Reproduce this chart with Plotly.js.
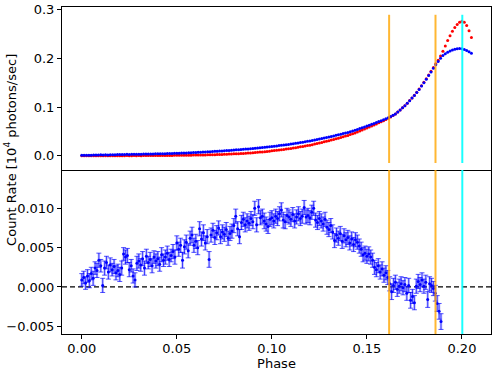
<!DOCTYPE html>
<html>
<head>
<meta charset="utf-8">
<script src="https://cdn.plot.ly/plotly-3.0.1.min.js"></script>
<style>html,body{margin:0;padding:0;background:#fff;}#chart{width:501px;height:376px;}</style>
</head>
<body>
<div id="chart"></div>
<script>
// ---- Top panel: phase bins (regular grid, step 0.00125 from 0 to 0.205) ----
const topPhaseStart = 0.0;
const topPhaseStep = 0.00125;
const blueRate = [
 0.0008,0.0010,0.0009,0.0012,0.0011,0.0013,0.0014,0.0016,
 0.0018,0.0017,0.0019,0.0016,0.0020,0.0021,0.0019,0.0023,
 0.0025,0.0024,0.0026,0.0028,0.0027,0.0029,0.0030,0.0029,
 0.0032,0.0031,0.0033,0.0035,0.0034,0.0036,0.0037,0.0038,
 0.0040,0.0041,0.0043,0.0042,0.0045,0.0046,0.0047,0.0049,
 0.0050,0.0052,0.0054,0.0055,0.0057,0.0060,0.0062,0.0064,
 0.0068,0.0070,0.0072,0.0074,0.0077,0.0080,0.0083,0.0086,
 0.0090,0.0092,0.0095,0.0099,0.0102,0.0105,0.0109,0.0113,
 0.0118,0.0121,0.0124,0.0128,0.0131,0.0136,0.0140,0.0144,
 0.0148,0.0153,0.0158,0.0163,0.0168,0.0173,0.0179,0.0184,
 0.0190,0.0196,0.0202,0.0208,0.0214,0.0221,0.0227,0.0233,
 0.0240,0.0247,0.0255,0.0263,0.0271,0.0279,0.0288,0.0296,
 0.0305,0.0314,0.0324,0.0334,0.0344,0.0354,0.0364,0.0374,
 0.0385,0.0396,0.0408,0.0420,0.0432,0.0444,0.0456,0.0468,
 0.0480,0.0495,0.0510,0.0526,0.0542,0.0558,0.0575,0.0592,
 0.0610,0.0628,0.0646,0.0664,0.0683,0.0702,0.0721,0.0740,
 0.0760,0.0782,0.0805,0.0832,0.0860,0.0900,0.0942,0.0985,
 0.1030,0.1080,0.1132,0.1186,0.1240,0.1300,0.1365,0.1432,
 0.1500,0.1575,0.1650,0.1725,0.1800,0.1870,0.1940,0.2005,
 0.2060,0.2100,0.2130,0.2155,0.2175,0.2190,0.2200,0.2205,
 0.2200,0.2185,0.2165,0.2140,0.2110
];
const redRate = [
 0.0000,0.0001,-0.0001,0.0000,0.0001,0.0000,-0.0001,0.0000,
 -0.0002,0.0000,-0.0001,0.0001,0.0000,-0.0001,0.0001,0.0000,
 0.0000,0.0001,0.0000,0.0002,0.0001,0.0000,0.0002,0.0001,
 0.0002,0.0001,0.0003,0.0002,0.0003,0.0004,0.0003,0.0004,
 0.0005,0.0004,0.0006,0.0005,0.0006,0.0007,0.0006,0.0008,
 0.0008,0.0009,0.0009,0.0010,0.0011,0.0011,0.0012,0.0013,
 0.0013,0.0014,0.0015,0.0016,0.0017,0.0018,0.0020,0.0021,
 0.0022,0.0024,0.0026,0.0027,0.0029,0.0031,0.0033,0.0035,
 0.0038,0.0040,0.0043,0.0045,0.0048,0.0051,0.0054,0.0058,
 0.0062,0.0066,0.0070,0.0074,0.0078,0.0083,0.0088,0.0094,
 0.0100,0.0106,0.0112,0.0118,0.0124,0.0130,0.0137,0.0143,
 0.0150,0.0158,0.0166,0.0175,0.0183,0.0191,0.0200,0.0209,
 0.0218,0.0228,0.0239,0.0250,0.0262,0.0274,0.0286,0.0298,
 0.0310,0.0322,0.0335,0.0348,0.0362,0.0376,0.0390,0.0404,
 0.0418,0.0435,0.0452,0.0470,0.0490,0.0509,0.0529,0.0549,
 0.0570,0.0590,0.0611,0.0632,0.0654,0.0676,0.0698,0.0721,
 0.0745,0.0770,0.0797,0.0826,0.0858,0.0898,0.0940,0.0985,
 0.1030,0.1082,0.1135,0.1190,0.1245,0.1308,0.1374,0.1442,
 0.1510,0.1585,0.1662,0.1740,0.1815,0.1890,0.1965,0.2050,
 0.2150,0.2260,0.2370,0.2470,0.2560,0.2640,0.2700,0.2745,
 0.2765,0.2745,0.2680,0.2570,0.2430
];

// ---- Bottom panel: residual (phase step 0.001 from 0 to 0.189) ----
const diffPhaseStart = 0.0;
const diffPhaseStep = 0.001;
const diffRate = [
 0.0009,0.0012,0.0005,0.0014,0.0008,0.0017,0.0011,0.0024,0.0021,0.0034,
 0.0027,0.0002,0.0024,0.0031,0.0019,0.0028,0.0022,0.0026,0.0018,0.0021,
 0.0016,0.0024,0.0042,0.0038,0.0040,0.0022,0.0027,0.0014,0.0009,0.0030,
 0.0033,0.0028,0.0036,0.0024,0.0039,0.0031,0.0035,0.0027,0.0038,0.0033,
 0.0036,0.0029,0.0041,0.0034,0.0038,0.0043,0.0035,0.0040,0.0045,0.0038,
 0.0056,0.0048,0.0053,0.0034,0.0051,0.0057,0.0046,0.0062,0.0066,0.0053,
 0.0058,0.0050,0.0074,0.0061,0.0069,0.0056,0.0064,0.0035,0.0066,0.0072,
 0.0063,0.0069,0.0075,0.0064,0.0070,0.0067,0.0073,0.0062,0.0068,0.0071,
 0.0078,0.0090,0.0074,0.0064,0.0082,0.0086,0.0079,0.0084,0.0081,0.0087,
 0.0083,0.0100,0.0079,0.0102,0.0088,0.0090,0.0084,0.0080,0.0077,0.0086,
 0.0088,0.0084,0.0090,0.0087,0.0093,0.0098,0.0085,0.0083,0.0091,0.0089,
 0.0086,0.0092,0.0084,0.0089,0.0093,0.0087,0.0090,0.0101,0.0089,0.0091,
 0.0088,0.0095,0.0100,0.0085,0.0082,0.0087,0.0084,0.0080,0.0086,0.0076,
 0.0073,0.0078,0.0070,0.0059,0.0066,0.0062,0.0068,0.0058,0.0065,0.0060,
 0.0063,0.0056,0.0061,0.0054,0.0060,0.0057,0.0052,0.0048,0.0041,0.0043,
 0.0039,0.0042,0.0038,0.0034,0.0025,0.0022,0.0027,0.0019,0.0023,0.0015,
 0.0018,0.0012,0.0004,-0.0006,0.0002,0.0006,-0.0003,0.0001,0.0004,-0.0001,
 0.0003,-0.0008,0.0002,-0.0017,-0.0012,-0.0020,0.0001,0.0007,0.0003,0.0009,
 0.0001,0.0006,-0.0016,0.0004,0.0002,-0.0002,-0.0008,-0.0021,-0.0031,-0.0044
];
const diffErr = [
 0.0008,0.0008,0.0008,0.0008,0.0009,0.0008,0.0009,0.0008,0.0009,0.0009,
 0.0008,0.0009,0.0009,0.0008,0.0009,0.0009,0.0008,0.0009,0.0009,0.0008,
 0.0009,0.0009,0.0008,0.0009,0.0009,0.0009,0.0008,0.0009,0.0009,0.0009,
 0.0009,0.0008,0.0009,0.0009,0.0009,0.0008,0.0009,0.0009,0.0008,0.0009,
 0.0009,0.0009,0.0009,0.0008,0.0009,0.0009,0.0009,0.0008,0.0009,0.0009,
 0.0009,0.0009,0.0009,0.0010,0.0009,0.0009,0.0009,0.0009,0.0010,0.0009,
 0.0009,0.0009,0.0009,0.0009,0.0010,0.0009,0.0009,0.0010,0.0009,0.0009,
 0.0009,0.0009,0.0009,0.0009,0.0009,0.0009,0.0009,0.0009,0.0009,0.0009,
 0.0009,0.0009,0.0009,0.0009,0.0009,0.0009,0.0009,0.0009,0.0009,0.0009,
 0.0009,0.0009,0.0009,0.0009,0.0009,0.0009,0.0010,0.0009,0.0009,0.0009,
 0.0009,0.0009,0.0009,0.0009,0.0009,0.0009,0.0010,0.0009,0.0009,0.0009,
 0.0009,0.0009,0.0009,0.0009,0.0009,0.0009,0.0009,0.0009,0.0009,0.0009,
 0.0009,0.0009,0.0009,0.0009,0.0009,0.0009,0.0009,0.0009,0.0009,0.0009,
 0.0009,0.0009,0.0009,0.0009,0.0009,0.0009,0.0009,0.0009,0.0009,0.0009,
 0.0009,0.0009,0.0009,0.0009,0.0009,0.0009,0.0009,0.0009,0.0009,0.0009,
 0.0009,0.0009,0.0009,0.0009,0.0009,0.0009,0.0009,0.0009,0.0009,0.0009,
 0.0009,0.0009,0.0009,0.0010,0.0009,0.0009,0.0009,0.0009,0.0009,0.0009,
 0.0009,0.0009,0.0009,0.0010,0.0009,0.0009,0.0009,0.0009,0.0009,0.0009,
 0.0009,0.0009,0.0010,0.0009,0.0009,0.0009,0.0010,0.0010,0.0010,0.0010
];

// ---- Marker lines ----
const orangePhases = [0.1617, 0.1861];
const cyanPhases = [0.2002];
const topLineSpan = [-0.015, 0.29];

// ---- Axis ticks ----
const xTicks = [0.00, 0.05, 0.10, 0.15, 0.20];
const yTopTicks = [0.0, 0.1, 0.2, 0.3];
const yBotTicks = [-0.005, 0.000, 0.005, 0.010];

const topPhase = blueRate.map((_, i) => +(topPhaseStart + i * topPhaseStep).toFixed(5));
const diffPhase = diffRate.map((_, i) => +(diffPhaseStart + i * diffPhaseStep).toFixed(5));

const FONT = 'DejaVu Sans, sans-serif';
const FS = 13;

const traces = [
  {x: topPhase, y: redRate, xaxis: 'x2', yaxis: 'y2', mode: 'markers', type: 'scatter',
   marker: {color: 'red', size: 3}, hoverinfo: 'skip'},
  {x: topPhase, y: blueRate, xaxis: 'x2', yaxis: 'y2', mode: 'markers', type: 'scatter',
   marker: {color: 'blue', size: 3}, hoverinfo: 'skip'},
  {x: diffPhase, y: diffRate, xaxis: 'x', yaxis: 'y', mode: 'markers', type: 'scatter',
   marker: {color: 'blue', size: 3, opacity: 0},
   error_y: {type: 'data', array: diffErr, visible: true, color: 'rgba(70,70,255,0.35)', thickness: 2.5, width: 0},
   hoverinfo: 'skip'},
  {x: diffPhase, y: diffRate, xaxis: 'x', yaxis: 'y', mode: 'markers', type: 'scatter',
   marker: {color: 'blue', size: 3},
   error_y: {type: 'data', array: diffErr, visible: true, color: 'rgba(0,0,255,0.85)', thickness: 0.8, width: 2.5},
   hoverinfo: 'skip'}
];

const shapes = [];
shapes.push({type: 'line', xref: 'x domain', yref: 'y', x0: 0, x1: 1, y0: 0, y1: 0,
  line: {color: 'black', width: 1.3, dash: '5px,3px'}, layer: 'below'});
orangePhases.forEach(p => {
  shapes.push({type: 'line', xref: 'x2', yref: 'y2', x0: p, x1: p, y0: topLineSpan[0], y1: topLineSpan[1],
    line: {color: 'rgba(255,165,0,0.8)', width: 2}, layer: 'above'});
  shapes.push({type: 'line', xref: 'x', yref: 'y domain', x0: p, x1: p, y0: 0, y1: 1,
    line: {color: 'rgba(255,165,0,0.8)', width: 2}, layer: 'above'});
});
cyanPhases.forEach(p => {
  shapes.push({type: 'line', xref: 'x2', yref: 'y2', x0: p, x1: p, y0: topLineSpan[0], y1: topLineSpan[1],
    line: {color: 'rgba(0,255,255,0.9)', width: 2}, layer: 'above'});
  shapes.push({type: 'line', xref: 'x', yref: 'y domain', x0: p, x1: p, y0: 0, y1: 1,
    line: {color: 'rgba(0,255,255,0.9)', width: 2}, layer: 'above'});
});

const axCommon = {showline: true, mirror: true, linecolor: 'black', linewidth: 1, showgrid: false,
  zeroline: false, ticks: 'outside', ticklen: 4, tickwidth: 1, tickcolor: 'black',
  tickfont: {family: FONT, size: FS, color: 'black'}};

const layout = {
  width: 501, height: 376,
  margin: {l: 62, r: 10, t: 7, b: 42},
  paper_bgcolor: 'white', plot_bgcolor: 'white',
  showlegend: false,
  font: {family: FONT, size: FS, color: 'black'},
  xaxis: Object.assign({}, axCommon, {domain: [0, 1], anchor: 'y', range: [-0.0104, 0.2153],
    mirror: false, tickvals: xTicks, tickformat: '.2f', ticklabelstandoff: -2,
    title: {text: 'Phase', font: {family: FONT, size: FS, color: 'black'}, standoff: 2}}),
  xaxis2: Object.assign({}, axCommon, {domain: [0, 1], anchor: 'y2', matches: 'x', range: [-0.0104, 0.2153],
    showticklabels: false, ticks: ''}),
  yaxis: Object.assign({}, axCommon, {domain: [0, 0.5015], anchor: 'x', range: [-0.00598, 0.01487],
    tickvals: yBotTicks, tickformat: '.3f'}),
  yaxis2: Object.assign({}, axCommon, {domain: [0.5015, 1], anchor: 'x2', range: [-0.0294, 0.306],
    tickvals: yTopTicks, tickformat: '.1f'}),
  shapes: shapes,
  annotations: [{
    text: 'Count Rate [10<sup>4</sup> photons/sec]', textangle: -90,
    xref: 'paper', yref: 'paper', x: -0.1212, y: 0.563, xanchor: 'center', yanchor: 'middle',
    showarrow: false, font: {family: FONT, size: FS, color: 'black'}
  }]
};

Plotly.newPlot('chart', traces, layout, {staticPlot: true, displayModeBar: false});
</script>
</body>
</html>
